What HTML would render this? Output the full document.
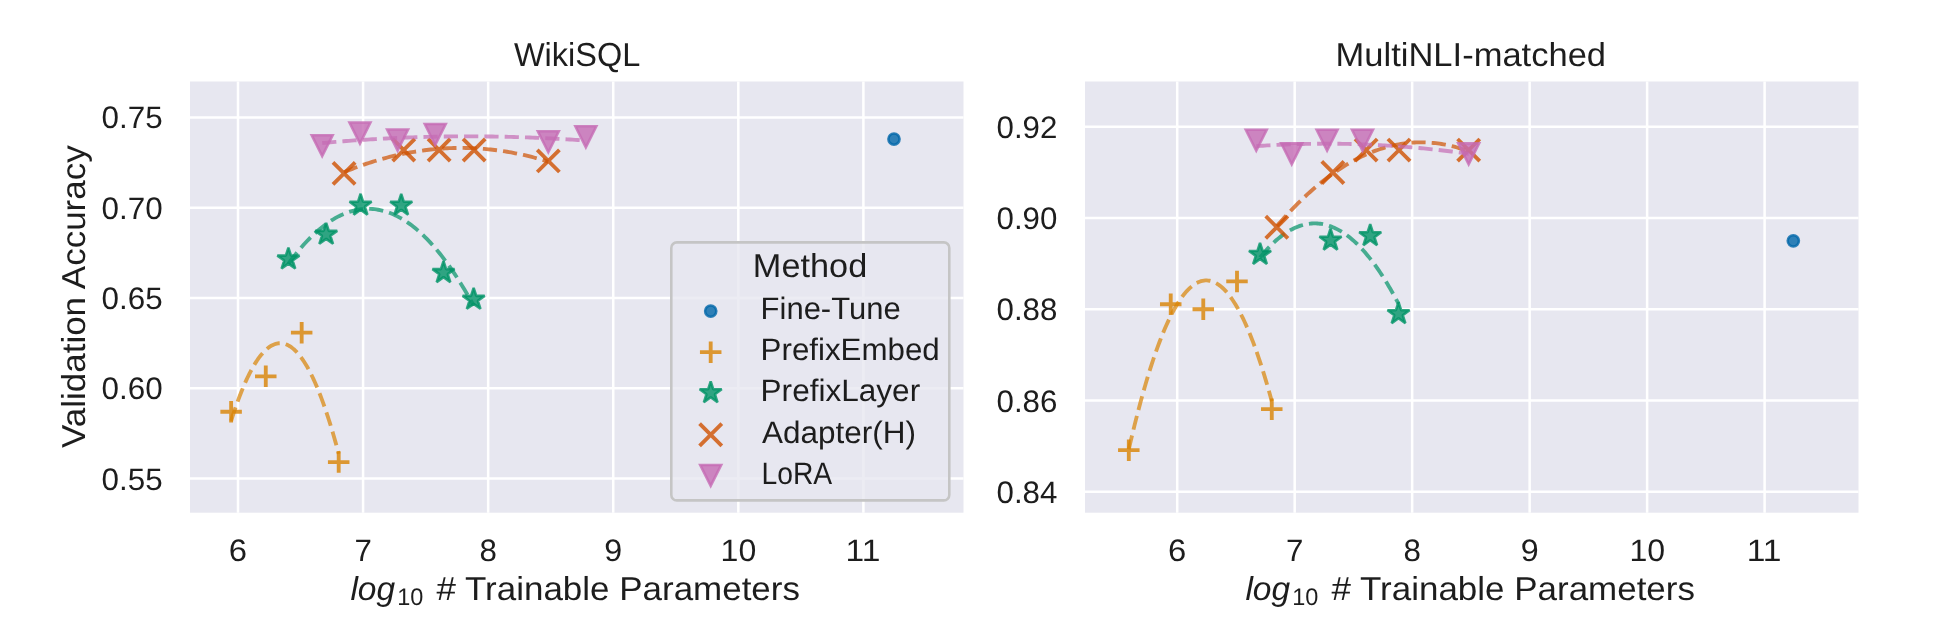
<!DOCTYPE html><html><head><meta charset="utf-8"><style>html,body{margin:0;padding:0;background:#fff;overflow:hidden}svg{display:block;will-change:transform}text{font-family:"Liberation Sans",sans-serif;text-rendering:geometricPrecision;fill:#1D1D1D}</style></head><body>
<svg width="1936" height="640" viewBox="0 0 1936 640">
<rect width="1936" height="640" fill="#fff"/>
<rect x="190.0" y="81.5" width="773.5" height="431.20000000000005" fill="#E7E7F0"/>
<path d="M238.00 81.5V512.7M363.08 81.5V512.7M488.16 81.5V512.7M613.24 81.5V512.7M738.32 81.5V512.7M863.40 81.5V512.7M190.0 117.40H963.5M190.0 207.68H963.5M190.0 297.96H963.5M190.0 388.24H963.5M190.0 478.52H963.5" stroke="#fff" stroke-width="2.5" fill="none"/>
<circle cx="893.98" cy="139.07" r="5.6" fill="#0066A9" fill-opacity="0.8" stroke="#0066A9" stroke-opacity="0.8" stroke-width="2.56"/>
<path d="M220.37 411.71H241.87M231.12 400.96V422.46" stroke="#D98303" stroke-opacity="0.8" stroke-width="3.84" fill="none"/>
<path d="M255.02 376.32H276.52M265.77 365.57V387.07" stroke="#D98303" stroke-opacity="0.8" stroke-width="3.84" fill="none"/>
<path d="M290.92 332.63H312.42M301.67 321.88V343.38" stroke="#D98303" stroke-opacity="0.8" stroke-width="3.84" fill="none"/>
<path d="M327.94 462.09H349.44M338.69 451.34V472.84" stroke="#D98303" stroke-opacity="0.8" stroke-width="3.84" fill="none"/>
<path d="M231.12 420.82L232.21 417.42L233.29 414.10L234.38 410.85L235.47 407.68L236.55 404.58L237.64 401.56L238.73 398.62L239.81 395.75L240.90 392.96L241.99 390.25L243.07 387.61L244.16 385.04L245.25 382.56L246.33 380.15L247.42 377.81L248.51 375.56L249.59 373.37L250.68 371.27L251.77 369.24L252.85 367.29L253.94 365.41L255.02 363.61L256.11 361.89L257.20 360.24L258.28 358.67L259.37 357.17L260.46 355.75L261.54 354.41L262.63 353.14L263.72 351.95L264.80 350.84L265.89 349.80L266.98 348.84L268.06 347.95L269.15 347.14L270.24 346.41L271.32 345.75L272.41 345.17L273.50 344.66L274.58 344.24L275.67 343.88L276.76 343.61L277.84 343.41L278.93 343.28L280.02 343.24L281.10 343.26L282.19 343.37L283.28 343.55L284.36 343.81L285.45 344.14L286.53 344.55L287.62 345.04L288.71 345.60L289.79 346.24L290.88 346.95L291.97 347.74L293.05 348.61L294.14 349.55L295.23 350.57L296.31 351.67L297.40 352.84L298.49 354.09L299.57 355.41L300.66 356.81L301.75 358.29L302.83 359.84L303.92 361.47L305.01 363.18L306.09 364.96L307.18 366.82L308.27 368.75L309.35 370.76L310.44 372.85L311.53 375.01L312.61 377.25L313.70 379.56L314.79 381.95L315.87 384.42L316.96 386.96L318.04 389.58L319.13 392.28L320.22 395.05L321.30 397.90L322.39 400.83L323.48 403.83L324.56 406.90L325.65 410.06L326.74 413.29L327.82 416.59L328.91 419.97L330.00 423.43L331.08 426.97L332.17 430.58L333.26 434.26L334.34 438.03L335.43 441.87L336.52 445.78L337.60 449.77L338.69 453.84" fill="none" stroke="#D98303" stroke-opacity="0.7" stroke-width="3.84" stroke-dasharray="14.2 6.1"/>
<path d="M288.41 247.58L285.80 255.60L277.37 255.60L284.19 260.55L281.59 268.57L288.41 263.61L295.23 268.57L292.62 260.55L299.44 255.60L291.01 255.60Z" fill="#019366" fill-opacity="0.8" stroke="#019366" stroke-opacity="0.8" stroke-width="2.56" stroke-linejoin="bevel"/>
<path d="M326.18 222.84L323.58 230.86L315.15 230.86L321.97 235.81L319.36 243.83L326.18 238.88L333.00 243.83L330.40 235.81L337.21 230.86L328.79 230.86Z" fill="#019366" fill-opacity="0.8" stroke="#019366" stroke-opacity="0.8" stroke-width="2.56" stroke-linejoin="bevel"/>
<path d="M360.58 193.77L357.97 201.79L349.55 201.79L356.36 206.74L353.76 214.76L360.58 209.81L367.40 214.76L364.79 206.74L371.61 201.79L363.18 201.79Z" fill="#019366" fill-opacity="0.8" stroke="#019366" stroke-opacity="0.8" stroke-width="2.56" stroke-linejoin="bevel"/>
<path d="M401.23 193.77L398.63 201.79L390.20 201.79L397.02 206.74L394.41 214.76L401.23 209.81L408.05 214.76L405.44 206.74L412.26 201.79L403.83 201.79Z" fill="#019366" fill-opacity="0.8" stroke="#019366" stroke-opacity="0.8" stroke-width="2.56" stroke-linejoin="bevel"/>
<path d="M443.51 261.12L440.90 269.14L432.47 269.14L439.29 274.09L436.69 282.11L443.51 277.15L450.32 282.11L447.72 274.09L454.54 269.14L446.11 269.14Z" fill="#019366" fill-opacity="0.8" stroke="#019366" stroke-opacity="0.8" stroke-width="2.56" stroke-linejoin="bevel"/>
<path d="M473.65 287.85L471.05 295.86L462.62 295.86L469.44 300.82L466.83 308.83L473.65 303.88L480.47 308.83L477.86 300.82L484.68 295.86L476.26 295.86Z" fill="#019366" fill-opacity="0.8" stroke="#019366" stroke-opacity="0.8" stroke-width="2.56" stroke-linejoin="bevel"/>
<path d="M288.41 263.80L290.28 261.25L292.15 258.76L294.02 256.32L295.89 253.95L297.76 251.64L299.63 249.39L301.51 247.20L303.38 245.07L305.25 243.01L307.12 241.00L308.99 239.05L310.86 237.17L312.73 235.34L314.60 233.58L316.47 231.87L318.35 230.23L320.22 228.65L322.09 227.13L323.96 225.67L325.83 224.27L327.70 222.93L329.57 221.65L331.44 220.44L333.31 219.28L335.19 218.18L337.06 217.15L338.93 216.17L340.80 215.26L342.67 214.41L344.54 213.62L346.41 212.88L348.28 212.21L350.16 211.60L352.03 211.06L353.90 210.57L355.77 210.14L357.64 209.77L359.51 209.47L361.38 209.22L363.25 209.04L365.12 208.91L367.00 208.85L368.87 208.85L370.74 208.91L372.61 209.03L374.48 209.21L376.35 209.45L378.22 209.75L380.09 210.11L381.96 210.53L383.84 211.02L385.71 211.56L387.58 212.17L389.45 212.83L391.32 213.56L393.19 214.35L395.06 215.20L396.93 216.11L398.80 217.08L400.68 218.11L402.55 219.20L404.42 220.35L406.29 221.56L408.16 222.84L410.03 224.17L411.90 225.56L413.77 227.02L415.65 228.54L417.52 230.11L419.39 231.75L421.26 233.45L423.13 235.21L425.00 237.03L426.87 238.91L428.74 240.85L430.61 242.86L432.49 244.92L434.36 247.04L436.23 249.23L438.10 251.47L439.97 253.78L441.84 256.15L443.71 258.57L445.58 261.06L447.45 263.61L449.33 266.22L451.20 268.89L453.07 271.63L454.94 274.42L456.81 277.27L458.68 280.18L460.55 283.16L462.42 286.19L464.29 289.29L466.17 292.45L468.04 295.66L469.91 298.94L471.78 302.28L473.65 305.68" fill="none" stroke="#019366" stroke-opacity="0.7" stroke-width="3.84" stroke-dasharray="14.2 6.1"/>
<path d="M332.97 162.27L355.17 184.47M332.97 184.47L355.17 162.27" stroke="#CF5100" stroke-opacity="0.8" stroke-width="3.84" fill="none"/>
<path d="M392.63 138.98L414.83 161.18M392.63 161.18L414.83 138.98" stroke="#CF5100" stroke-opacity="0.8" stroke-width="3.84" fill="none"/>
<path d="M428.03 138.98L450.23 161.18M428.03 161.18L450.23 138.98" stroke="#CF5100" stroke-opacity="0.8" stroke-width="3.84" fill="none"/>
<path d="M463.05 138.98L485.25 161.18M463.05 161.18L485.25 138.98" stroke="#CF5100" stroke-opacity="0.8" stroke-width="3.84" fill="none"/>
<path d="M537.22 149.81L559.42 172.01M537.22 172.01L559.42 149.81" stroke="#CF5100" stroke-opacity="0.8" stroke-width="3.84" fill="none"/>
<path d="M344.07 172.17L346.13 171.32L348.19 170.49L350.26 169.67L352.32 168.86L354.38 168.07L356.45 167.30L358.51 166.54L360.57 165.80L362.64 165.07L364.70 164.35L366.76 163.65L368.83 162.97L370.89 162.30L372.95 161.65L375.02 161.01L377.08 160.39L379.14 159.78L381.21 159.19L383.27 158.61L385.33 158.05L387.39 157.50L389.46 156.97L391.52 156.46L393.58 155.96L395.65 155.47L397.71 155.00L399.77 154.54L401.84 154.10L403.90 153.68L405.96 153.27L408.03 152.87L410.09 152.49L412.15 152.13L414.22 151.78L416.28 151.45L418.34 151.13L420.41 150.82L422.47 150.53L424.53 150.26L426.60 150.00L428.66 149.76L430.72 149.53L432.78 149.32L434.85 149.12L436.91 148.94L438.97 148.77L441.04 148.62L443.10 148.48L445.16 148.36L447.23 148.25L449.29 148.16L451.35 148.09L453.42 148.03L455.48 147.98L457.54 147.95L459.61 147.93L461.67 147.93L463.73 147.95L465.80 147.98L467.86 148.02L469.92 148.09L471.99 148.16L474.05 148.25L476.11 148.36L478.18 148.48L480.24 148.62L482.30 148.77L484.36 148.93L486.43 149.12L488.49 149.31L490.55 149.53L492.62 149.75L494.68 150.00L496.74 150.25L498.81 150.53L500.87 150.81L502.93 151.12L505.00 151.44L507.06 151.77L509.12 152.12L511.19 152.48L513.25 152.86L515.31 153.26L517.38 153.67L519.44 154.09L521.50 154.53L523.57 154.99L525.63 155.46L527.69 155.94L529.75 156.44L531.82 156.96L533.88 157.49L535.94 158.04L538.01 158.60L540.07 159.17L542.13 159.77L544.20 160.37L546.26 160.99L548.32 161.63" fill="none" stroke="#CF5100" stroke-opacity="0.7" stroke-width="3.84" stroke-dasharray="14.2 6.1"/>
<path d="M311.68 135.18L332.68 135.18L322.18 156.18Z" fill="#C56BB4" fill-opacity="0.8" stroke="#C56BB4" stroke-opacity="0.8" stroke-width="2.56" stroke-linejoin="miter"/>
<path d="M349.45 122.54L370.45 122.54L359.95 143.54Z" fill="#C56BB4" fill-opacity="0.8" stroke="#C56BB4" stroke-opacity="0.8" stroke-width="2.56" stroke-linejoin="miter"/>
<path d="M387.10 129.58L408.10 129.58L397.60 150.58Z" fill="#C56BB4" fill-opacity="0.8" stroke="#C56BB4" stroke-opacity="0.8" stroke-width="2.56" stroke-linejoin="miter"/>
<path d="M424.75 123.99L445.75 123.99L435.25 144.99Z" fill="#C56BB4" fill-opacity="0.8" stroke="#C56BB4" stroke-opacity="0.8" stroke-width="2.56" stroke-linejoin="miter"/>
<path d="M537.82 131.21L558.82 131.21L548.32 152.21Z" fill="#C56BB4" fill-opacity="0.8" stroke="#C56BB4" stroke-opacity="0.8" stroke-width="2.56" stroke-linejoin="miter"/>
<path d="M575.35 126.33L596.35 126.33L585.85 147.33Z" fill="#C56BB4" fill-opacity="0.8" stroke="#C56BB4" stroke-opacity="0.8" stroke-width="2.56" stroke-linejoin="miter"/>
<path d="M322.18 143.03L324.84 142.79L327.51 142.55L330.17 142.32L332.83 142.10L335.50 141.87L338.16 141.66L340.82 141.44L343.49 141.23L346.15 141.03L348.81 140.83L351.48 140.63L354.14 140.44L356.80 140.25L359.47 140.07L362.13 139.89L364.79 139.72L367.46 139.55L370.12 139.38L372.78 139.22L375.45 139.07L378.11 138.91L380.77 138.77L383.44 138.62L386.10 138.49L388.76 138.35L391.43 138.22L394.09 138.09L396.75 137.97L399.42 137.86L402.08 137.74L404.74 137.64L407.41 137.53L410.07 137.43L412.73 137.34L415.40 137.25L418.06 137.16L420.72 137.08L423.38 137.00L426.05 136.93L428.71 136.86L431.37 136.80L434.04 136.74L436.70 136.68L439.36 136.63L442.03 136.58L444.69 136.54L447.35 136.50L450.02 136.47L452.68 136.44L455.34 136.41L458.01 136.39L460.67 136.38L463.33 136.36L466.00 136.36L468.66 136.35L471.32 136.36L473.99 136.36L476.65 136.37L479.31 136.39L481.98 136.41L484.64 136.43L487.30 136.46L489.97 136.49L492.63 136.53L495.29 136.57L497.96 136.61L500.62 136.66L503.28 136.72L505.95 136.77L508.61 136.84L511.27 136.90L513.94 136.98L516.60 137.05L519.26 137.13L521.93 137.22L524.59 137.31L527.25 137.40L529.92 137.50L532.58 137.60L535.24 137.71L537.91 137.82L540.57 137.93L543.23 138.05L545.90 138.18L548.56 138.30L551.22 138.44L553.89 138.57L556.55 138.72L559.21 138.86L561.88 139.01L564.54 139.17L567.20 139.33L569.87 139.49L572.53 139.66L575.19 139.83L577.86 140.01L580.52 140.19L583.18 140.38L585.85 140.57" fill="none" stroke="#C56BB4" stroke-opacity="0.7" stroke-width="3.84" stroke-dasharray="14.2 6.1"/>
<rect x="1085.0" y="81.5" width="773.5" height="431.20000000000005" fill="#E7E7F0"/>
<path d="M1177.20 81.5V512.7M1294.68 81.5V512.7M1412.16 81.5V512.7M1529.64 81.5V512.7M1647.12 81.5V512.7M1764.60 81.5V512.7M1085.0 126.85H1858.5M1085.0 218.06H1858.5M1085.0 309.27H1858.5M1085.0 400.48H1858.5M1085.0 491.69H1858.5" stroke="#fff" stroke-width="2.5" fill="none"/>
<circle cx="1793.32" cy="240.86" r="5.6" fill="#0066A9" fill-opacity="0.8" stroke="#0066A9" stroke-opacity="0.8" stroke-width="2.56"/>
<path d="M1118.05 450.19H1139.55M1128.80 439.44V460.94" stroke="#D98303" stroke-opacity="0.8" stroke-width="3.84" fill="none"/>
<path d="M1159.99 304.25H1181.49M1170.74 293.50V315.00" stroke="#D98303" stroke-opacity="0.8" stroke-width="3.84" fill="none"/>
<path d="M1192.53 309.27H1214.03M1203.28 298.52V320.02" stroke="#D98303" stroke-opacity="0.8" stroke-width="3.84" fill="none"/>
<path d="M1226.25 281.45H1247.75M1237.00 270.70V292.20" stroke="#D98303" stroke-opacity="0.8" stroke-width="3.84" fill="none"/>
<path d="M1261.02 409.14H1282.52M1271.77 398.39V419.89" stroke="#D98303" stroke-opacity="0.8" stroke-width="3.84" fill="none"/>
<path d="M1128.80 449.39L1130.24 443.15L1131.69 437.02L1133.13 431.02L1134.57 425.13L1136.02 419.36L1137.46 413.71L1138.91 408.17L1140.35 402.75L1141.80 397.45L1143.24 392.26L1144.68 387.20L1146.13 382.25L1147.57 377.42L1149.02 372.70L1150.46 368.11L1151.91 363.63L1153.35 359.27L1154.79 355.02L1156.24 350.89L1157.68 346.88L1159.13 342.99L1160.57 339.22L1162.01 335.56L1163.46 332.02L1164.90 328.60L1166.35 325.29L1167.79 322.11L1169.24 319.04L1170.68 316.08L1172.12 313.25L1173.57 310.53L1175.01 307.93L1176.46 305.45L1177.90 303.08L1179.34 300.83L1180.79 298.70L1182.23 296.69L1183.68 294.80L1185.12 293.02L1186.57 291.36L1188.01 289.81L1189.45 288.39L1190.90 287.08L1192.34 285.89L1193.79 284.81L1195.23 283.86L1196.67 283.02L1198.12 282.30L1199.56 281.69L1201.01 281.21L1202.45 280.84L1203.90 280.59L1205.34 280.45L1206.78 280.44L1208.23 280.54L1209.67 280.76L1211.12 281.09L1212.56 281.55L1214.00 282.12L1215.45 282.81L1216.89 283.61L1218.34 284.53L1219.78 285.57L1221.23 286.73L1222.67 288.01L1224.11 289.40L1225.56 290.91L1227.00 292.54L1228.45 294.28L1229.89 296.15L1231.33 298.13L1232.78 300.22L1234.22 302.44L1235.67 304.77L1237.11 307.22L1238.56 309.79L1240.00 312.47L1241.44 315.28L1242.89 318.20L1244.33 321.23L1245.78 324.39L1247.22 327.66L1248.66 331.05L1250.11 334.55L1251.55 338.18L1253.00 341.92L1254.44 345.78L1255.89 349.76L1257.33 353.85L1258.77 358.06L1260.22 362.39L1261.66 366.84L1263.11 371.40L1264.55 376.08L1265.99 380.88L1267.44 385.80L1268.88 390.83L1270.33 395.98L1271.77 401.25" fill="none" stroke="#D98303" stroke-opacity="0.7" stroke-width="3.84" stroke-dasharray="14.2 6.1"/>
<path d="M1260.02 242.90L1257.42 250.92L1248.99 250.92L1255.81 255.87L1253.21 263.88L1260.02 258.93L1266.84 263.88L1264.24 255.87L1271.06 250.92L1262.63 250.92Z" fill="#019366" fill-opacity="0.8" stroke="#019366" stroke-opacity="0.8" stroke-width="2.56" stroke-linejoin="bevel"/>
<path d="M1330.51 228.76L1327.91 236.78L1319.48 236.78L1326.30 241.73L1323.69 249.75L1330.51 244.79L1337.33 249.75L1334.73 241.73L1341.54 236.78L1333.12 236.78Z" fill="#019366" fill-opacity="0.8" stroke="#019366" stroke-opacity="0.8" stroke-width="2.56" stroke-linejoin="bevel"/>
<path d="M1370.22 224.20L1367.62 232.22L1359.19 232.22L1366.01 237.17L1363.40 245.19L1370.22 240.23L1377.04 245.19L1374.43 237.17L1381.25 232.22L1372.82 232.22Z" fill="#019366" fill-opacity="0.8" stroke="#019366" stroke-opacity="0.8" stroke-width="2.56" stroke-linejoin="bevel"/>
<path d="M1398.53 302.19L1395.93 310.20L1387.50 310.20L1394.32 315.16L1391.71 323.17L1398.53 318.22L1405.35 323.17L1402.75 315.16L1409.56 310.20L1401.14 310.20Z" fill="#019366" fill-opacity="0.8" stroke="#019366" stroke-opacity="0.8" stroke-width="2.56" stroke-linejoin="bevel"/>
<path d="M1260.02 257.58L1261.42 255.85L1262.82 254.17L1264.22 252.53L1265.62 250.94L1267.02 249.39L1268.42 247.89L1269.82 246.43L1271.22 245.02L1272.62 243.65L1274.01 242.32L1275.41 241.04L1276.81 239.81L1278.21 238.62L1279.61 237.47L1281.01 236.37L1282.41 235.32L1283.81 234.31L1285.21 233.34L1286.61 232.42L1288.01 231.55L1289.40 230.71L1290.80 229.93L1292.20 229.19L1293.60 228.49L1295.00 227.84L1296.40 227.23L1297.80 226.67L1299.20 226.15L1300.60 225.67L1302.00 225.25L1303.39 224.86L1304.79 224.52L1306.19 224.23L1307.59 223.98L1308.99 223.78L1310.39 223.62L1311.79 223.50L1313.19 223.43L1314.59 223.41L1315.99 223.43L1317.39 223.49L1318.78 223.60L1320.18 223.76L1321.58 223.95L1322.98 224.20L1324.38 224.49L1325.78 224.82L1327.18 225.20L1328.58 225.62L1329.98 226.09L1331.38 226.60L1332.78 227.16L1334.17 227.76L1335.57 228.41L1336.97 229.10L1338.37 229.83L1339.77 230.62L1341.17 231.44L1342.57 232.31L1343.97 233.23L1345.37 234.19L1346.77 235.19L1348.17 236.24L1349.56 237.34L1350.96 238.48L1352.36 239.66L1353.76 240.89L1355.16 242.17L1356.56 243.48L1357.96 244.85L1359.36 246.26L1360.76 247.71L1362.16 249.21L1363.56 250.75L1364.95 252.34L1366.35 253.97L1367.75 255.65L1369.15 257.37L1370.55 259.14L1371.95 260.95L1373.35 262.80L1374.75 264.71L1376.15 266.65L1377.55 268.64L1378.95 270.68L1380.34 272.76L1381.74 274.88L1383.14 277.05L1384.54 279.27L1385.94 281.53L1387.34 283.83L1388.74 286.18L1390.14 288.57L1391.54 291.01L1392.94 293.50L1394.34 296.02L1395.73 298.60L1397.13 301.21L1398.53 303.88" fill="none" stroke="#019366" stroke-opacity="0.7" stroke-width="3.84" stroke-dasharray="14.2 6.1"/>
<path d="M1265.72 216.08L1287.92 238.28M1265.72 238.28L1287.92 216.08" stroke="#CF5100" stroke-opacity="0.8" stroke-width="3.84" fill="none"/>
<path d="M1321.76 161.36L1343.96 183.56M1321.76 183.56L1343.96 161.36" stroke="#CF5100" stroke-opacity="0.8" stroke-width="3.84" fill="none"/>
<path d="M1355.01 139.01L1377.21 161.21M1355.01 161.21L1377.21 139.01" stroke="#CF5100" stroke-opacity="0.8" stroke-width="3.84" fill="none"/>
<path d="M1387.90 139.01L1410.10 161.21M1387.90 161.21L1410.10 139.01" stroke="#CF5100" stroke-opacity="0.8" stroke-width="3.84" fill="none"/>
<path d="M1457.57 139.01L1479.77 161.21M1457.57 161.21L1479.77 139.01" stroke="#CF5100" stroke-opacity="0.8" stroke-width="3.84" fill="none"/>
<path d="M1276.82 226.08L1278.76 223.85L1280.70 221.65L1282.64 219.47L1284.57 217.33L1286.51 215.21L1288.45 213.13L1290.39 211.08L1292.33 209.06L1294.26 207.06L1296.20 205.10L1298.14 203.17L1300.08 201.27L1302.01 199.39L1303.95 197.55L1305.89 195.74L1307.83 193.96L1309.77 192.21L1311.70 190.49L1313.64 188.80L1315.58 187.14L1317.52 185.51L1319.46 183.91L1321.39 182.34L1323.33 180.80L1325.27 179.29L1327.21 177.81L1329.14 176.36L1331.08 174.94L1333.02 173.55L1334.96 172.19L1336.90 170.87L1338.83 169.57L1340.77 168.30L1342.71 167.06L1344.65 165.86L1346.58 164.68L1348.52 163.53L1350.46 162.42L1352.40 161.33L1354.34 160.27L1356.27 159.25L1358.21 158.25L1360.15 157.28L1362.09 156.35L1364.03 155.44L1365.96 154.57L1367.90 153.72L1369.84 152.91L1371.78 152.12L1373.71 151.37L1375.65 150.65L1377.59 149.95L1379.53 149.29L1381.47 148.66L1383.40 148.05L1385.34 147.48L1387.28 146.94L1389.22 146.42L1391.15 145.94L1393.09 145.49L1395.03 145.07L1396.97 144.68L1398.91 144.31L1400.84 143.98L1402.78 143.68L1404.72 143.41L1406.66 143.17L1408.60 142.96L1410.53 142.78L1412.47 142.63L1414.41 142.51L1416.35 142.42L1418.28 142.36L1420.22 142.33L1422.16 142.33L1424.10 142.36L1426.04 142.42L1427.97 142.51L1429.91 142.64L1431.85 142.79L1433.79 142.97L1435.72 143.18L1437.66 143.42L1439.60 143.70L1441.54 144.00L1443.48 144.33L1445.41 144.70L1447.35 145.09L1449.29 145.51L1451.23 145.97L1453.17 146.45L1455.10 146.96L1457.04 147.51L1458.98 148.08L1460.92 148.69L1462.85 149.32L1464.79 149.99L1466.73 150.68L1468.67 151.41" fill="none" stroke="#CF5100" stroke-opacity="0.7" stroke-width="3.84" stroke-dasharray="14.2 6.1"/>
<path d="M1245.76 129.70L1266.76 129.70L1256.26 150.70Z" fill="#C56BB4" fill-opacity="0.8" stroke="#C56BB4" stroke-opacity="0.8" stroke-width="2.56" stroke-linejoin="miter"/>
<path d="M1281.24 143.38L1302.24 143.38L1291.74 164.38Z" fill="#C56BB4" fill-opacity="0.8" stroke="#C56BB4" stroke-opacity="0.8" stroke-width="2.56" stroke-linejoin="miter"/>
<path d="M1316.60 129.70L1337.60 129.70L1327.10 150.70Z" fill="#C56BB4" fill-opacity="0.8" stroke="#C56BB4" stroke-opacity="0.8" stroke-width="2.56" stroke-linejoin="miter"/>
<path d="M1351.97 129.70L1372.97 129.70L1362.47 150.70Z" fill="#C56BB4" fill-opacity="0.8" stroke="#C56BB4" stroke-opacity="0.8" stroke-width="2.56" stroke-linejoin="miter"/>
<path d="M1458.17 143.38L1479.17 143.38L1468.67 164.38Z" fill="#C56BB4" fill-opacity="0.8" stroke="#C56BB4" stroke-opacity="0.8" stroke-width="2.56" stroke-linejoin="miter"/>
<path d="M1256.26 146.14L1258.41 145.99L1260.56 145.85L1262.70 145.71L1264.85 145.58L1266.99 145.45L1269.14 145.33L1271.28 145.21L1273.43 145.09L1275.57 144.98L1277.72 144.87L1279.86 144.77L1282.01 144.67L1284.16 144.58L1286.30 144.49L1288.45 144.41L1290.59 144.33L1292.74 144.26L1294.88 144.19L1297.03 144.12L1299.17 144.06L1301.32 144.01L1303.46 143.96L1305.61 143.91L1307.76 143.87L1309.90 143.83L1312.05 143.80L1314.19 143.77L1316.34 143.75L1318.48 143.73L1320.63 143.71L1322.77 143.70L1324.92 143.70L1327.07 143.70L1329.21 143.70L1331.36 143.71L1333.50 143.72L1335.65 143.74L1337.79 143.76L1339.94 143.79L1342.08 143.82L1344.23 143.86L1346.37 143.90L1348.52 143.95L1350.67 144.00L1352.81 144.05L1354.96 144.11L1357.10 144.17L1359.25 144.24L1361.39 144.31L1363.54 144.39L1365.68 144.47L1367.83 144.56L1369.98 144.65L1372.12 144.75L1374.27 144.85L1376.41 144.95L1378.56 145.06L1380.70 145.18L1382.85 145.30L1384.99 145.42L1387.14 145.55L1389.28 145.68L1391.43 145.82L1393.58 145.96L1395.72 146.11L1397.87 146.26L1400.01 146.41L1402.16 146.57L1404.30 146.74L1406.45 146.91L1408.59 147.08L1410.74 147.26L1412.89 147.44L1415.03 147.63L1417.18 147.82L1419.32 148.02L1421.47 148.22L1423.61 148.43L1425.76 148.64L1427.90 148.85L1430.05 149.07L1432.19 149.30L1434.34 149.53L1436.49 149.76L1438.63 150.00L1440.78 150.24L1442.92 150.49L1445.07 150.74L1447.21 151.00L1449.36 151.26L1451.50 151.52L1453.65 151.79L1455.79 152.07L1457.94 152.35L1460.09 152.63L1462.23 152.92L1464.38 153.22L1466.52 153.51L1468.67 153.82" fill="none" stroke="#C56BB4" stroke-opacity="0.7" stroke-width="3.84" stroke-dasharray="14.2 6.1"/>
<rect x="671.3" y="242.4" width="278" height="258.0" rx="5.5" ry="5.5" fill="#E7E7F0" fill-opacity="0.8" stroke="#C5C5C5" stroke-width="2.56"/>
<circle cx="710.70" cy="311.10" r="5.6" fill="#0066A9" fill-opacity="0.8" stroke="#0066A9" stroke-opacity="0.8" stroke-width="2.56"/>
<path d="M699.95 352.20H721.45M710.70 341.45V362.95" stroke="#D98303" stroke-opacity="0.8" stroke-width="3.84" fill="none"/>
<path d="M710.70 381.30L708.10 389.32L699.67 389.32L706.49 394.27L703.88 402.28L710.70 397.33L717.52 402.28L714.91 394.27L721.73 389.32L713.30 389.32Z" fill="#019366" fill-opacity="0.8" stroke="#019366" stroke-opacity="0.8" stroke-width="2.56" stroke-linejoin="bevel"/>
<path d="M699.60 423.60L721.80 445.80M699.60 445.80L721.80 423.60" stroke="#CF5100" stroke-opacity="0.8" stroke-width="3.84" fill="none"/>
<path d="M700.20 464.91L721.20 464.91L710.70 485.91Z" fill="#C56BB4" fill-opacity="0.8" stroke="#C56BB4" stroke-opacity="0.8" stroke-width="2.56" stroke-linejoin="miter"/>
<text transform="translate(513.89 66.00) scale(0.9799 1)" font-size="33.2" font-style="normal">WikiSQL</text>
<text transform="translate(1335.54 66.00) scale(1.0403 1)" font-size="33.2" font-style="normal">MultiNLI-matched</text>
<text transform="translate(101.49 128.45) scale(1.0127 1)" font-size="31.0" font-style="normal">0.75</text>
<text transform="translate(101.49 218.73) scale(1.0127 1)" font-size="31.0" font-style="normal">0.70</text>
<text transform="translate(101.49 309.01) scale(1.0127 1)" font-size="31.0" font-style="normal">0.65</text>
<text transform="translate(101.49 399.29) scale(1.0127 1)" font-size="31.0" font-style="normal">0.60</text>
<text transform="translate(101.49 489.57) scale(1.0127 1)" font-size="31.0" font-style="normal">0.55</text>
<text transform="translate(996.55 137.90) scale(1.0084 1)" font-size="31.0" font-style="normal">0.92</text>
<text transform="translate(996.55 229.11) scale(1.0084 1)" font-size="31.0" font-style="normal">0.90</text>
<text transform="translate(996.55 320.32) scale(1.0084 1)" font-size="31.0" font-style="normal">0.88</text>
<text transform="translate(996.55 411.53) scale(1.0084 1)" font-size="31.0" font-style="normal">0.86</text>
<text transform="translate(996.55 502.74) scale(1.0084 1)" font-size="31.0" font-style="normal">0.84</text>
<text transform="translate(228.81 560.90) scale(1.0589 1)" font-size="31.0" font-style="normal">6</text>
<text transform="translate(354.42 560.90) scale(1.0067 1)" font-size="31.0" font-style="normal">7</text>
<text transform="translate(479.40 560.90) scale(1.0089 1)" font-size="31.0" font-style="normal">8</text>
<text transform="translate(604.29 560.90) scale(1.0406 1)" font-size="31.0" font-style="normal">9</text>
<text transform="translate(720.62 560.90) scale(1.0339 1)" font-size="31.0" font-style="normal">10</text>
<text transform="translate(845.48 560.90) scale(1.0823 1)" font-size="31.0" font-style="normal">11</text>
<text transform="translate(1168.01 560.90) scale(1.0589 1)" font-size="31.0" font-style="normal">6</text>
<text transform="translate(1286.02 560.90) scale(1.0067 1)" font-size="31.0" font-style="normal">7</text>
<text transform="translate(1403.40 560.90) scale(1.0089 1)" font-size="31.0" font-style="normal">8</text>
<text transform="translate(1520.69 560.90) scale(1.0406 1)" font-size="31.0" font-style="normal">9</text>
<text transform="translate(1629.42 560.90) scale(1.0339 1)" font-size="31.0" font-style="normal">10</text>
<text transform="translate(1746.68 560.90) scale(1.0823 1)" font-size="31.0" font-style="normal">11</text>
<text transform="translate(350.40 599.70) scale(1.0094 1)" font-size="33.2" font-style="italic">log</text>
<text transform="translate(397.14 604.70) scale(0.9751 1)" font-size="24.1" font-style="normal">10</text>
<text transform="translate(436.53 599.70) scale(1.0535 1)" font-size="33.2" font-style="normal"># Trainable Parameters</text>
<text transform="translate(1245.40 599.70) scale(1.0094 1)" font-size="33.2" font-style="italic">log</text>
<text transform="translate(1292.14 604.70) scale(0.9751 1)" font-size="24.1" font-style="normal">10</text>
<text transform="translate(1331.53 599.70) scale(1.0535 1)" font-size="33.2" font-style="normal"># Trainable Parameters</text>
<text transform="translate(84.5 447.97) rotate(-90) scale(1.0540 1)" font-size="33.2">Validation Accuracy</text>
<text transform="translate(752.86 276.70) scale(1.0330 1)" font-size="33.2" font-style="normal">Method</text>
<text transform="translate(760.62 319.40) scale(0.9989 1)" font-size="31.0" font-style="normal">Fine-Tune</text>
<text transform="translate(760.60 359.70) scale(1.0094 1)" font-size="31.0" font-style="normal">PrefixEmbed</text>
<text transform="translate(760.58 400.80) scale(1.0178 1)" font-size="31.0" font-style="normal">PrefixLayer</text>
<text transform="translate(762.04 442.60) scale(1.0155 1)" font-size="31.0" font-style="normal">Adapter(H)</text>
<text transform="translate(761.44 483.90) scale(0.9118 1)" font-size="31.0" font-style="normal">LoRA</text>
</svg></body></html>
